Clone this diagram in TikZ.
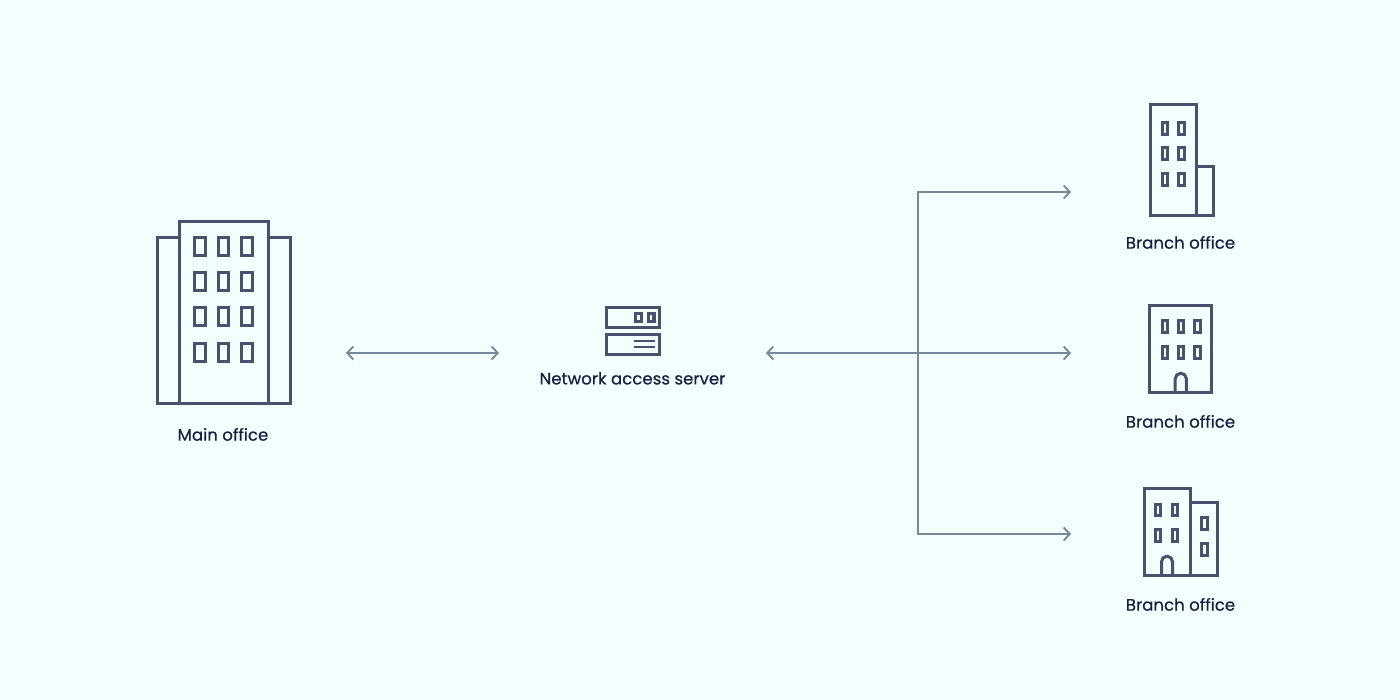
\documentclass[tikz,border=0pt]{standalone}
\usepackage{fontspec}
\setmainfont{Poppins}
\usetikzlibrary{arrows.meta}
\definecolor{bgc}{HTML}{F3FFFF}
\definecolor{icon}{HTML}{4A5070}
\definecolor{conn}{HTML}{7A869A}
\definecolor{txt}{HTML}{171C44}
\tikzset{
  x=1pt,y=-1pt,
  bld/.style={draw=icon,line width=3pt},
  win/.style={draw=icon,line width=3.3pt},
  lab/.style={text=txt,font=\fontsize{16.6}{20}\selectfont\addfontfeature{FakeBold=0.3},inner sep=0pt,anchor=center},
  link/.style={draw=conn,line width=1.9pt},
  head/.style={-{Straight Barb[length=6pt,width=13pt,line width=1.9pt]}},
  heads/.style={{Straight Barb[length=6pt,width=13pt,line width=1.9pt]}-{Straight Barb[length=6pt,width=13pt,line width=1.9pt]}}
}
\newcommand{\wn}[4]{\draw[win] (#1,#3) rectangle (#2,#4);}
\begin{document}
\begin{tikzpicture}
\useasboundingbox (0,0) rectangle (1400,700);
\fill[bgc] (0,0) rectangle (1400,700);
% main office
\draw[bld] (179.5,222) rectangle (268,403);
\draw[bld] (179.5,238) -- (157,238) -- (157,403) -- (290.5,403) -- (290.5,238) -- (268,238);
\foreach \yy/\yb in {237.6/255.8,272.2/290.6,307.4/325.8,343.2/361.8}{
  \wn{194.8}{205.8}{\yy}{\yb}\wn{218.8}{228.8}{\yy}{\yb}\wn{241.8}{252.2}{\yy}{\yb}}
\node[lab] (main) at (223,434.4) {Main office};
% server
\draw[bld] (606.3,307.4) rectangle (659.7,327.4);
\draw[bld] (606.3,334.4) rectangle (659.7,354.7);
\wn{635.5}{641.2}{313.8}{321.7}\wn{648.2}{653.9}{313.8}{321.7}
\draw[icon,line width=2pt] (634,340.7) -- (655.3,340.7) (634,347.3) -- (655.3,347.3);
\node[lab] (server) at (632.5,378.4) {Network access server};
% branch 1
\draw[bld] (1150.5,104.5) rectangle (1196.5,215.5);
\draw[bld] (1196.5,166.5) -- (1213.2,166.5) -- (1213.2,215.5) -- (1196.5,215.5);
\foreach \yy/\yb in {122.5/134.8,147.2/159.5,173.5/185.8}{
  \wn{1162.5}{1167.8}{\yy}{\yb}\wn{1178.5}{1184.5}{\yy}{\yb}}
\node[lab] (b1) at (1180.5,242.4) {Branch office};
% branch 2
\draw[bld] (1149.8,305.2) rectangle (1211.8,392.8);
\foreach \yy/\yb in {320.8/332.8,346.5/358.8}{
  \wn{1162.2}{1167.8}{\yy}{\yb}\wn{1178.2}{1183.8}{\yy}{\yb}\wn{1194.8}{1200.5}{\yy}{\yb}}
\draw[bld] (1175.2,392.8) -- (1175.2,378.8) arc[start angle=180,end angle=0,x radius=5.6pt,y radius=5.6pt] -- (1186.4,392.8);
\node[lab] (b2) at (1180.5,421.4) {Branch office};
% branch 3
\draw[bld] (1144.2,488.2) rectangle (1190,575.8);
\draw[bld] (1190,502.5) -- (1217.5,502.5) -- (1217.5,575.8) -- (1190,575.8);
\foreach \yy/\yb in {504.2/515.8,529.5/541.8}{
  \wn{1155.5}{1160.6}{\yy}{\yb}\wn{1172.2}{1177.8}{\yy}{\yb}}
\wn{1201.5}{1207.2}{517.5}{529.8}\wn{1201.5}{1207.2}{543.2}{555.5}
\draw[bld] (1161.5,575.8) -- (1161.5,561.7) arc[start angle=180,end angle=0,x radius=5.5pt,y radius=5.5pt] -- (1172.5,575.8);
\node[lab] (b3) at (1180.5,604.4) {Branch office};
% connectors
\coordinate (a1) at (346,353);
\coordinate (a2) at (499,353);
\coordinate (c0) at (766,353);
\coordinate (c1) at (1071,353);
\coordinate (t1) at (918,192);
\coordinate (t3) at (918,534);
\coordinate (e1) at (1071,192);
\coordinate (e3) at (1071,534);
\draw[link,heads] (a1) -- (a2);
\draw[link,heads] (c0) -- (c1);
\draw[link,head] (t3) -- (t1) -- (e1);
\draw[link,head] (t1) -- (t3) -- (e3);
\end{tikzpicture}
\end{document}
